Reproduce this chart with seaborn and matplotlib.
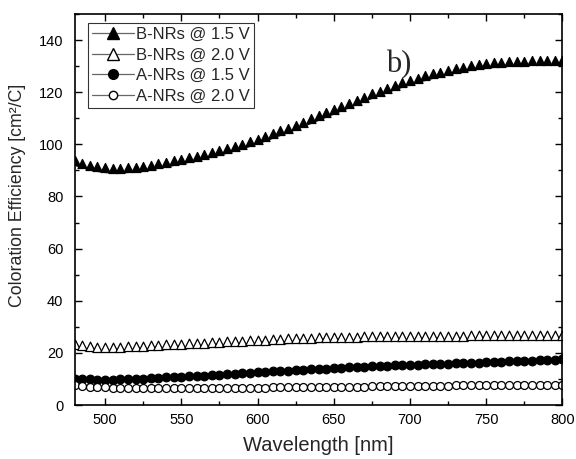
import matplotlib
matplotlib.use("Agg")
import matplotlib.pyplot as plt
from matplotlib.path import Path
from matplotlib.lines import Line2D
from matplotlib.ticker import MultipleLocator
import pandas as pd
import seaborn as sns

# Wavelength grid (nm)
wavelength = [480, 485, 490, 495, 500, 505, 510, 515, 520, 525,
              530, 535, 540, 545, 550, 555, 560, 565, 570, 575,
              580, 585, 590, 595, 600, 605, 610, 615, 620, 625,
              630, 635, 640, 645, 650, 655, 660, 665, 670, 675,
              680, 685, 690, 695, 700, 705, 710, 715, 720, 725,
              730, 735, 740, 745, 750, 755, 760, 765, 770, 775,
              780, 785, 790, 795, 800]

# Coloration efficiency (cm^2/C)
b_nrs_15 = [92.0, 91.0, 90.3, 89.6, 89.2, 89.0, 89.0, 89.2, 89.5, 89.9,
            90.3, 90.8, 91.3, 91.9, 92.5, 93.1, 93.7, 94.4, 95.1, 95.8,
            96.6, 97.4, 98.3, 99.2, 100.2, 101.2, 102.3, 103.4, 104.5, 105.6,
            106.8, 108.0, 109.2, 110.4, 111.6, 112.8, 114.0, 115.2, 116.4, 117.6,
            118.7, 119.8, 120.9, 121.9, 122.8, 123.7, 124.5, 125.3, 126.0, 126.7,
            127.3, 127.9, 128.4, 128.8, 129.2, 129.5, 129.8, 130.0, 130.1, 130.2,
            130.3, 130.3, 130.3, 130.3, 130.3]
b_nrs_20 = [21.5, 21.0, 20.7, 20.5, 20.4, 20.4, 20.5, 20.6, 20.7, 20.9,
            21.0, 21.1, 21.3, 21.4, 21.5, 21.7, 21.8, 22.0, 22.1, 22.3,
            22.5, 22.6, 22.8, 22.9, 23.1, 23.2, 23.3, 23.5, 23.6, 23.7,
            23.8, 23.9, 24.0, 24.1, 24.2, 24.2, 24.3, 24.3, 24.4, 24.4,
            24.5, 24.5, 24.5, 24.6, 24.6, 24.6, 24.6, 24.7, 24.7, 24.7,
            24.7, 24.7, 24.8, 24.8, 24.8, 24.8, 24.8, 24.8, 24.9, 24.9,
            24.9, 24.9, 24.9, 24.9, 24.9]
a_nrs_15 = [10.0, 9.9, 9.8, 9.7, 9.7, 9.7, 9.8, 9.9, 10.0, 10.1,
            10.3, 10.4, 10.6, 10.7, 10.9, 11.0, 11.2, 11.3, 11.5, 11.7,
            11.8, 12.0, 12.2, 12.4, 12.5, 12.7, 12.9, 13.1, 13.2, 13.4,
            13.6, 13.7, 13.9, 14.0, 14.2, 14.3, 14.5, 14.6, 14.7, 14.8,
            14.9, 15.0, 15.2, 15.3, 15.4, 15.5, 15.6, 15.7, 15.8, 15.9,
            16.0, 16.1, 16.2, 16.3, 16.4, 16.5, 16.6, 16.7, 16.8, 16.9,
            17.0, 17.1, 17.2, 17.4, 17.6]
a_nrs_20 = [7.7, 7.3, 7.0, 6.9, 6.8, 6.7, 6.6, 6.6, 6.5, 6.5,
            6.5, 6.5, 6.5, 6.5, 6.5, 6.5, 6.5, 6.6, 6.6, 6.6,
            6.6, 6.6, 6.7, 6.7, 6.7, 6.7, 6.8, 6.8, 6.8, 6.9,
            6.9, 6.9, 7.0, 7.0, 7.0, 7.0, 7.1, 7.1, 7.1, 7.2,
            7.2, 7.2, 7.3, 7.3, 7.3, 7.3, 7.4, 7.4, 7.4, 7.4,
            7.5, 7.5, 7.5, 7.5, 7.5, 7.6, 7.6, 7.6, 7.6, 7.6,
            7.7, 7.7, 7.7, 7.7, 7.7]

labels = ["B-NRs @ 1.5 V", "B-NRs @ 2.0 V", "A-NRs @ 1.5 V", "A-NRs @ 2.0 V"]

sns.set_style("ticks")
plt.rcParams["font.family"] = ["Liberation Sans", "DejaVu Sans"]

# Triangle marker whose base sits on the data point
tri_up = Path([(-1.0, 0.0), (1.0, 0.0), (0.0, 2.0), (-1.0, 0.0)],
              [Path.MOVETO, Path.LINETO, Path.LINETO, Path.CLOSEPOLY])

df = pd.DataFrame({"wl": wavelength, "b15": b_nrs_15, "b20": b_nrs_20,
                   "a15": a_nrs_15, "a20": a_nrs_20})

fig = plt.figure(figsize=(5.76, 4.59), dpi=100)
ax = fig.add_axes([0.1295, 0.1176, 0.847, 0.852])

styles = [
    ("b15", tri_up, "black", 13.0),
    ("b20", tri_up, "white", 13.5),
    ("a15", "o", "black", 6.2),
    ("a20", "o", "white", 5.7),
]
for col, mk, face, ms in styles:
    sns.lineplot(data=df, x="wl", y=col, ax=ax, color="black", linewidth=0.9,
                 marker=mk, markersize=ms, markerfacecolor=face,
                 markeredgecolor="black", markeredgewidth=0.9)

ax.set_xlim(480, 800)
ax.set_ylim(0, 150)
ax.xaxis.set_major_locator(MultipleLocator(50))
ax.xaxis.set_minor_locator(MultipleLocator(25))
ax.yaxis.set_minor_locator(MultipleLocator(10))
ax.set_yticks([0, 20, 40, 60, 80, 100, 120, 140])
ax.tick_params(which="both", direction="in", top=True, right=True,
               colors="black", width=1.0, labelsize=10.5)
ax.tick_params(which="major", length=5)
ax.tick_params(which="minor", length=3)
ax.tick_params(axis="y", which="major", pad=8)
ax.tick_params(axis="x", which="major", pad=6)
for sp in ax.spines.values():
    sp.set_linewidth(1.2)
    sp.set_color("black")

ax.set_xlabel("Wavelength [nm]", fontsize=14.5, labelpad=6)
ax.set_ylabel("Coloration Efficiency [cm²/C]", fontsize=12.8)
ax.yaxis.set_label_coords(-0.10, 0.535)

ax.text(684.5, 127.5, "b)", fontsize=22, family="Liberation Serif",
        ha="left", va="baseline")

handle_line = "0.4"
handles = [
    Line2D([], [], color=handle_line, linewidth=0.9, marker="^", markersize=8,
           markerfacecolor="black", markeredgecolor="black"),
    Line2D([], [], color=handle_line, linewidth=0.9, marker="^", markersize=8,
           markerfacecolor="white", markeredgecolor="black"),
    Line2D([], [], color=handle_line, linewidth=0.9, marker="o", markersize=7,
           markerfacecolor="black", markeredgecolor="black"),
    Line2D([], [], color=handle_line, linewidth=0.9, marker="o", markersize=6,
           markerfacecolor="white", markeredgecolor="black"),
]
leg = ax.legend(handles, labels, loc="upper left", bbox_to_anchor=(0.027, 0.977),
                borderaxespad=0, fontsize=12, frameon=True, fancybox=False,
                edgecolor="black", handlelength=2.5, handletextpad=0.15,
                labelspacing=0.33, borderpad=0.25)
leg.get_frame().set_linewidth(0.8)

fig.savefig("out.png", dpi=100)
